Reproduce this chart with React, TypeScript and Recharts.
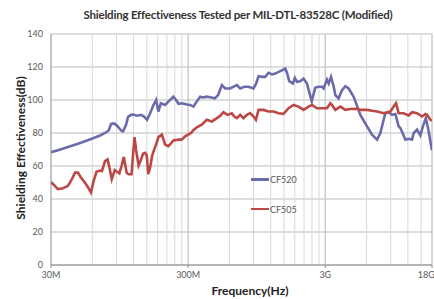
import React from "react";
import { LineChart, Line, XAxis, YAxis, CartesianGrid, ReferenceLine } from "recharts";

const TITLE = "Shielding Effectiveness Tested per MIL-DTL-83528C (Modified)";
const X_LABEL = "Frequency(Hz)";
const Y_LABEL = "Shielding Effectiveness(dB)";
const SERIES_NAMES = ["CF520", "CF505"];

// frequency in MHz
const X_TICKS = [30, 300, 3000, 18000];
const X_TICK_LABELS = ["30M", "300M", "3G", "18G"];
const Y_TICKS = [0, 20, 40, 60, 80, 100, 120, 140];
const MINOR_GRID = [60, 90, 120, 150, 180, 210, 240, 270, 600, 900, 1200, 1500, 1800, 2100, 2400, 2700, 6000, 9000, 12000, 15000];
const MAJOR_GRID = [300, 3000, 18000];

const CF520_FREQ = [30, 33.7, 39.9, 47.2, 53.1, 60.8, 68.4, 74.3, 79, 82.3, 86.4, 90.9, 94, 97.3, 100.6, 105.8, 109.4, 115, 119, 127.5, 136.2, 143, 150.6, 158.4, 167.5, 175.2, 182, 189.6, 203.8, 218, 234, 245, 255, 271, 293, 310, 328, 346, 367, 385, 410, 442, 470, 496, 529, 559, 608, 639, 680, 719, 770, 827, 899, 940, 978, 1040, 1094, 1157, 1230, 1294, 1408, 1489, 1532, 1576, 1638, 1743, 1800, 1865, 1971, 2083, 2205, 2270, 2390, 2535, 2660, 2838, 2916, 3087, 3180, 3303, 3450, 3550, 3751, 3973, 4200, 4438, 4567, 4826, 4967, 5404, 6049, 6579, 7155, 7563, 7995, 8227, 8692, 9207, 9730, 10281, 10581, 11184, 11510, 12165, 12883, 13233, 14006, 14805, 15450, 16230, 17025, 17503, 18000];
const CF520_DB = [68.4, 69.5, 71.5, 73.5, 75, 76.8, 78.5, 80, 81.5, 85.5, 85.8, 84.5, 83, 81.5, 81, 85, 89.8, 91, 91.2, 90.5, 91, 90, 88, 92, 97, 100, 93, 98, 97, 99.5, 102, 100, 97.7, 98, 97.3, 97, 96, 99, 102, 101.5, 102, 101.5, 101, 103, 109, 107, 107, 108, 109, 107, 108, 108, 107, 110, 114.4, 114, 114, 116.5, 115.5, 116, 117.5, 118.5, 119, 116.5, 111.4, 110, 113.4, 111, 111.4, 113, 110, 106, 99.3, 107.4, 108, 108, 107, 112.4, 110, 114, 108.4, 103, 101, 106, 108.4, 107, 105.3, 102, 99.3, 91, 84, 79, 76, 80, 88, 92, 92.6, 91, 91.5, 84, 83, 78.5, 76, 76.5, 76, 80, 82, 78.5, 84, 89, 81, 75, 69.5];

const CF505_FREQ = [30, 33.7, 36.7, 39.9, 42.6, 44.9, 47.2, 49.6, 53.1, 56.4, 58.7, 61.4, 64.4, 68.4, 70.6, 74.3, 77.6, 79.6, 83.2, 87.6, 90.9, 94.5, 98, 101.9, 106.8, 110.2, 116, 119, 122, 125, 130.6, 136.2, 140.8, 145.6, 149.7, 153.5, 158.4, 163.7, 168, 175.2, 182, 193, 203.8, 215, 224, 234, 255, 269, 285.5, 315, 326, 347, 377, 410, 447, 486, 514, 543, 581, 625, 650, 680, 719, 760, 805, 850, 899, 936, 978, 1063, 1157, 1258, 1368, 1489, 1619, 1761, 1915, 2083, 2266, 2399, 2607, 2838, 3087, 3265, 3357, 3550, 3861, 4200, 4567, 5112, 5500, 6049, 6579, 7155, 7995, 8946, 9455, 9843, 10281, 11184, 12165, 12883, 14006, 15235, 16111, 16564, 17503, 18000];
const CF505_DB = [50.4, 46, 46.5, 48, 52, 56, 56, 53, 49.8, 46.5, 44, 51, 56.5, 57.2, 57, 63, 64, 60, 52, 57.5, 56.5, 55.5, 60, 65.5, 56, 55, 55, 67, 77.5, 70, 60.3, 64, 67.5, 68, 66.5, 55, 59, 66, 69, 73, 77.5, 79, 73, 72, 73.5, 75.5, 76, 76, 78, 80, 81.5, 83.5, 85, 88, 87, 89, 90.5, 92.6, 91, 92, 90, 89, 91, 89, 91, 92, 90, 88, 94, 94, 93, 93, 92, 91.6, 95, 97, 96, 94, 96, 97, 95, 95, 95, 98, 97, 94, 96, 94, 94.5, 94.6, 94, 94, 93.5, 93, 92, 93, 96, 98, 92, 92, 90.6, 92.6, 92, 90, 91.5, 91, 88, 87.5];

const COLORS = ["#6B6BAB", "#BC4846"];

const cf520 = CF520_FREQ.map((f, i) => ({ f, v: CF520_DB[i] }));
const cf505 = CF505_FREQ.map((f, i) => ({ f, v: CF505_DB[i] }));

const FONT = "Lato, 'Open Sans', sans-serif";

export default function App() {
  return (
    <div style={{ position: "relative", width: 434, height: 299, fontFamily: FONT, background: "#fff", overflow: "hidden" }}>
      <style>{"body{margin:0}"}</style>
      <div style={{ position: "absolute", left: 0, width: 476, top: 8, textAlign: "center", fontWeight: 700, fontSize: 11.5, letterSpacing: -0.2, color: "#333", lineHeight: "14px" }}>
        {TITLE}
      </div>
      <LineChart width={434} height={299} margin={{ top: 34, right: 2, left: 0, bottom: 0 }}>
        <CartesianGrid vertical={false} stroke="#BDBDBD" />
        {MINOR_GRID.map((g) => (
          <ReferenceLine key={"m" + g} x={g} stroke="#D8D8D8" strokeWidth={1} />
        ))}
        {MAJOR_GRID.map((g) => (
          <ReferenceLine key={"M" + g} x={g} stroke="#C4C4C4" strokeWidth={1.3} />
        ))}
        <XAxis
          type="number"
          dataKey="f"
          scale="log"
          domain={[30, 18000]}
          ticks={X_TICKS}
          tickFormatter={(v: number) => X_TICK_LABELS[X_TICKS.indexOf(v)] ?? ""}
          allowDataOverflow
          height={34}
          stroke="#8C8C8C"
          tickSize={3}
          tick={{ fontSize: 9, fill: "#595959", fontFamily: FONT }}
          tickMargin={4}
        />
        <YAxis
          type="number"
          domain={[0, 140]}
          ticks={Y_TICKS}
          width={51}
          stroke="#8C8C8C"
          tickLine={false}
          tick={{ fontSize: 9, fill: "#595959", fontFamily: FONT }}
        />
        <Line data={cf520} dataKey="v" name={SERIES_NAMES[0]} stroke={COLORS[0]} strokeWidth={2.6} dot={false} isAnimationActive={false} />
        <Line data={cf505} dataKey="v" name={SERIES_NAMES[1]} stroke={COLORS[1]} strokeWidth={2.6} dot={false} isAnimationActive={false} />
      </LineChart>
      <div style={{ position: "absolute", left: 20, top: 148, transform: "translate(-50%, -50%) rotate(-90deg)", whiteSpace: "nowrap", fontWeight: 700, fontSize: 12, color: "#222" }}>
        {Y_LABEL}
      </div>
      <div style={{ position: "absolute", left: 250, top: 290, transform: "translate(-50%, -50%)", whiteSpace: "nowrap", fontWeight: 700, fontSize: 12, color: "#222" }}>
        {X_LABEL}
      </div>
      {SERIES_NAMES.map((n, i) => (
        <div key={n} style={{ position: "absolute", left: 251, top: 174 + i * 29.5, height: 11, display: "flex", alignItems: "center" }}>
          <div style={{ width: 18, height: 2.5, background: COLORS[i] }} />
          <span style={{ fontSize: 9, color: "#595959", marginLeft: 1 }}>{n}</span>
        </div>
      ))}
    </div>
  );
}
